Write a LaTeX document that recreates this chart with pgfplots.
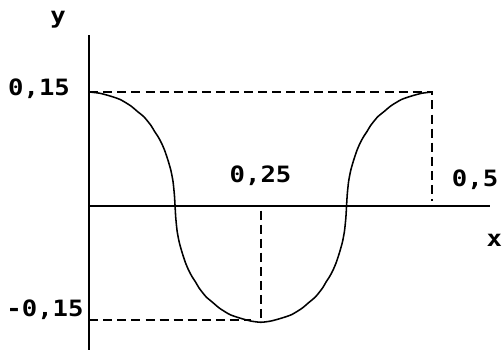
\documentclass[border=0pt]{standalone}
\usepackage{pgfplots}
\pgfplotsset{compat=1.18}
\usepackage{fontspec}
\newfontfamily\lab[FakeStretch=1.14]{DejaVu Sans Mono}
\begin{document}
\begin{tikzpicture}[lbl/.style={font={\lab\bfseries\fontsize{16}{19}\selectfont}, inner sep=0pt}]
\useasboundingbox (0,0) rectangle (12.55cm,8.75cm);
\begin{axis}[
  at={(0,0)}, anchor=south west,
  scale only axis, width=12.55cm, height=8.75cm,
  xmin=-0.1302, xmax=0.6016, ymin=-0.18947, ymax=0.27105,
  hide axis, clip=false,
]
% axes
\addplot[black, line width=1.2pt] coordinates {(0,-0.19) (0,0.225)};
\addplot[black, line width=1.2pt] coordinates {(0,0) (0.584,0)};
% dashed guides
\addplot[black, line width=1.3pt, dash pattern=on 6.4pt off 3.6pt] coordinates {(0,0.15) (0.5,0.15) (0.5,0.006)};
\addplot[black, line width=1.3pt, dash pattern=on 6.4pt off 3.6pt] coordinates {(0,-0.15) (0.235,-0.15)};
\addplot[black, line width=1.3pt, dash pattern=on 6.4pt off 3.6pt] coordinates {(0.25,-0.006) (0.25,-0.152)};
% curve
\addplot[black, line width=1.1pt, smooth, tension=0.4] coordinates {
(0,0.15) (0.015,0.1484) (0.03,0.1448) (0.045,0.1401) (0.06,0.132) (0.07,0.1245) (0.08,0.117) (0.09,0.1058) (0.095,0.0983) (0.1,0.0915) (0.105,0.0833) (0.11,0.0728) (0.115,0.0593) (0.119,0.0465) (0.122,0.0323) (0.124,0.015) (0.125,0)
(0.126,-0.0153) (0.128,-0.0329) (0.131,-0.0474) (0.135,-0.0604) (0.14,-0.0742) (0.145,-0.0849) (0.15,-0.0933) (0.155,-0.1002) (0.16,-0.1079) (0.17,-0.1193) (0.18,-0.127) (0.19,-0.1346) (0.205,-0.1429) (0.22,-0.1476) (0.235,-0.1513) (0.25,-0.153)
(0.265,-0.1513) (0.28,-0.1476) (0.295,-0.1429) (0.31,-0.1346) (0.32,-0.127) (0.33,-0.1193) (0.34,-0.1079) (0.345,-0.1002) (0.35,-0.0933) (0.355,-0.0849) (0.36,-0.0742) (0.365,-0.0604) (0.369,-0.0474) (0.372,-0.0329) (0.374,-0.0153) (0.375,0)
(0.376,0.015) (0.378,0.0323) (0.381,0.0465) (0.385,0.0593) (0.39,0.0728) (0.395,0.0833) (0.4,0.0915) (0.405,0.0983) (0.41,0.1058) (0.42,0.117) (0.43,0.1245) (0.44,0.132) (0.455,0.1401) (0.47,0.1448) (0.485,0.1484) (0.5,0.15)
};
% labels
\node[lbl, anchor=base] at (axis cs:-0.0733,0.146) {0,15};
\node[lbl, anchor=base] at (axis cs:-0.0646,-0.146) {-0,15};
\node[lbl, anchor=base] at (axis cs:0.2496,0.0303) {0,25};
\node[lbl, anchor=base] at (axis cs:0.5623,0.0263) {0,5};
\node[lbl, anchor=center] at (axis cs:-0.0456,0.2447) {y};
\node[lbl, anchor=center] at (axis cs:0.5905,-0.0447) {x};
\end{axis}
\end{tikzpicture}
\end{document}
